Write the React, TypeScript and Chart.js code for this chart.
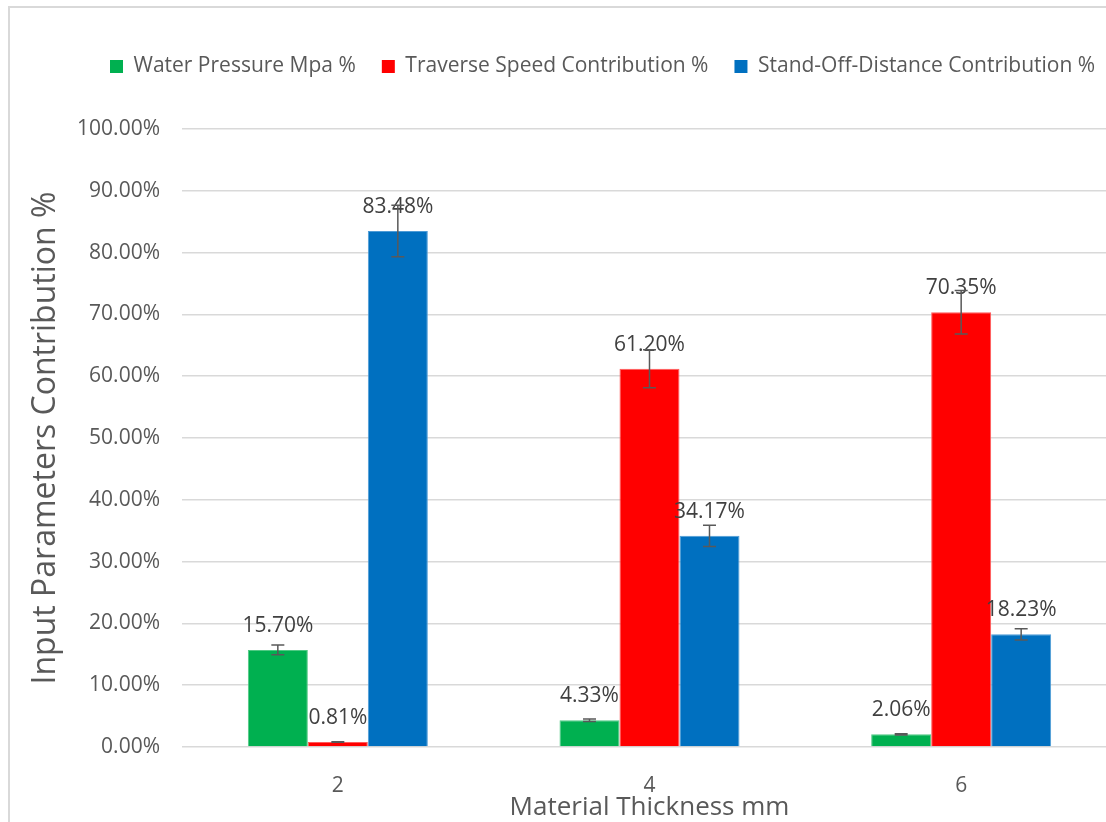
import React, { useEffect, useRef } from 'react';
import { Chart, registerables } from 'chart.js';

Chart.register(...registerables);

const categories = ['2', '4', '6'];
const seriesNames = [
  'Water Pressure Mpa %',
  'Traverse Speed Contribution %',
  'Stand-Off-Distance Contribution %',
];
const waterPressure = [15.7, 4.33, 2.06];
const traverseSpeed = [0.81, 61.2, 70.35];
const standOffDistance = [83.48, 34.17, 18.23];
const waterPressureErr = [0.79, 0.22, 0.1];
const traverseSpeedErr = [0.04, 3.06, 3.52];
const standOffDistanceErr = [4.17, 1.71, 0.91];
const yMin = 0;
const yMax = 100;
const yStep = 10;

const seriesValues = [waterPressure, traverseSpeed, standOffDistance];
const seriesErrors = [waterPressureErr, traverseSpeedErr, standOffDistanceErr];
const colors = ['#00B050', '#FF0000', '#0070C0'];
const edgeColors = ['#4fc983', '#ff5a5a', '#4d9bd6'];

const FONT = "'Open Sans', sans-serif";

const overlayPlugin = {
  id: 'overlay',
  beforeLayout(chart: any) {
    const lg = chart.legend;
    if (lg && !lg.__patched) {
      const orig = lg.fit;
      lg.fit = function () {
        orig.call(this);
        if (this.options.display) this.height = 99;
      };
      lg.__patched = true;
    }
  },
  afterLayout(chart: any) {
    const lg = chart.legend;
    if (lg) {
      const w = lg.right - lg.left;
      lg.left = 74;
      lg.right = 74 + w;
    }
  },
  afterDatasetsDraw(chart: any) {
    const ctx = chart.ctx;
    const y = chart.scales.y;
    ctx.save();
    ctx.font = `21px ${FONT}`;
    ctx.fillStyle = '#404040';
    ctx.textAlign = 'center';
    ctx.textBaseline = 'alphabetic';
    chart.data.datasets.forEach((ds: any, di: number) => {
      const meta = chart.getDatasetMeta(di);
      meta.data.forEach((bar: any, i: number) => {
        const v = ds.data[i];
        ctx.fillText(v.toFixed(2) + '%', bar.x, bar.y - 18);
      });
    });
    ctx.strokeStyle = '#595959';
    ctx.lineWidth = 1.5;
    chart.data.datasets.forEach((ds: any, di: number) => {
      const meta = chart.getDatasetMeta(di);
      const errs = seriesErrors[di];
      meta.data.forEach((bar: any, i: number) => {
        const v = ds.data[i];
        const e = errs[i];
        const top = y.getPixelForValue(v + e);
        const bot = y.getPixelForValue(v - e);
        ctx.beginPath();
        ctx.moveTo(bar.x, top);
        ctx.lineTo(bar.x, bot);
        ctx.moveTo(bar.x - 6.5, top);
        ctx.lineTo(bar.x + 6.5, top);
        ctx.moveTo(bar.x - 6.5, bot);
        ctx.lineTo(bar.x + 6.5, bot);
        ctx.stroke();
      });
    });
    ctx.restore();
  },
};

export default function App() {
  const canvasRef = useRef<HTMLCanvasElement | null>(null);

  useEffect(() => {
    const canvas = canvasRef.current;
    if (!canvas) return;
    const chart = new Chart(canvas, {
      type: 'bar',
      data: {
        labels: categories,
        datasets: seriesNames.map((name, i) => ({
          label: name,
          data: seriesValues[i],
          backgroundColor: colors[i],
          borderColor: edgeColors[i],
          borderWidth: 1,
          categoryPercentage: 0.5775,
          barPercentage: 1,
        })),
      },
      options: {
        responsive: false,
        animation: false,
        devicePixelRatio: 1,
        layout: { padding: { top: 22, left: 0, right: 23, bottom: 1 } },
        plugins: {
          legend: {
            display: true,
            position: 'top',
            align: 'start',
            labels: {
              boxWidth: 13,
              boxHeight: 13,
              padding: 26,
              color: '#595959',
              font: { family: FONT, size: 21 },
              generateLabels: (chart: any) =>
                chart.data.datasets.map((ds: any, i: number) => ({
                  text: ds.label,
                  fillStyle: colors[i],
                  strokeStyle: colors[i],
                  lineWidth: 0,
                  hidden: false,
                  datasetIndex: i,
                  fontColor: '#595959',
                })),
            },
          },
          tooltip: { enabled: false },
        },
        scales: {
          x: {
            grid: { display: false },
            border: { display: false },
            ticks: {
              color: '#595959',
              font: { family: FONT, size: 21 },
              padding: 18,
            },
            title: {
              display: true,
              text: 'Material Thickness mm',
              color: '#595959',
              font: { family: FONT, size: 26 },
              padding: { top: 0, bottom: 0 },
            },
            afterFit: (scale: any) => {
              scale.height = 76;
            },
          },
          y: {
            min: yMin,
            max: yMax,
            grid: { color: '#d9d9d9', lineWidth: 1.5, drawTicks: false },
            border: { display: false },
            ticks: {
              stepSize: yStep,
              color: '#595959',
              font: { family: FONT, size: 21 },
              padding: 22,
              callback: (v: any) => Number(v).toFixed(2) + '%',
            },
            title: {
              display: true,
              text: 'Input Parameters Contribution %',
              color: '#595959',
              font: { family: FONT, size: 32 },
              padding: { top: 17, bottom: 0 },
            },
            afterFit: (scale: any) => {
              scale.width = 172;
            },
          },
        },
      },
      plugins: [overlayPlugin],
    });
    return () => chart.destroy();
  }, []);

  return (
    <div
      style={{
        position: 'fixed',
        left: 0,
        top: 0,
        width: 1106,
        height: 822,
        overflow: 'hidden',
        background: '#ffffff',
      }}
    >
      <div
        style={{
          position: 'absolute',
          left: 8,
          top: 6,
          width: 1200,
          height: 900,
          border: '2px solid #d9d9d9',
          background: '#ffffff',
        }}
      >
        <canvas ref={canvasRef} width={1130} height={816} style={{ display: 'block' }} />
      </div>
    </div>
  );
}
